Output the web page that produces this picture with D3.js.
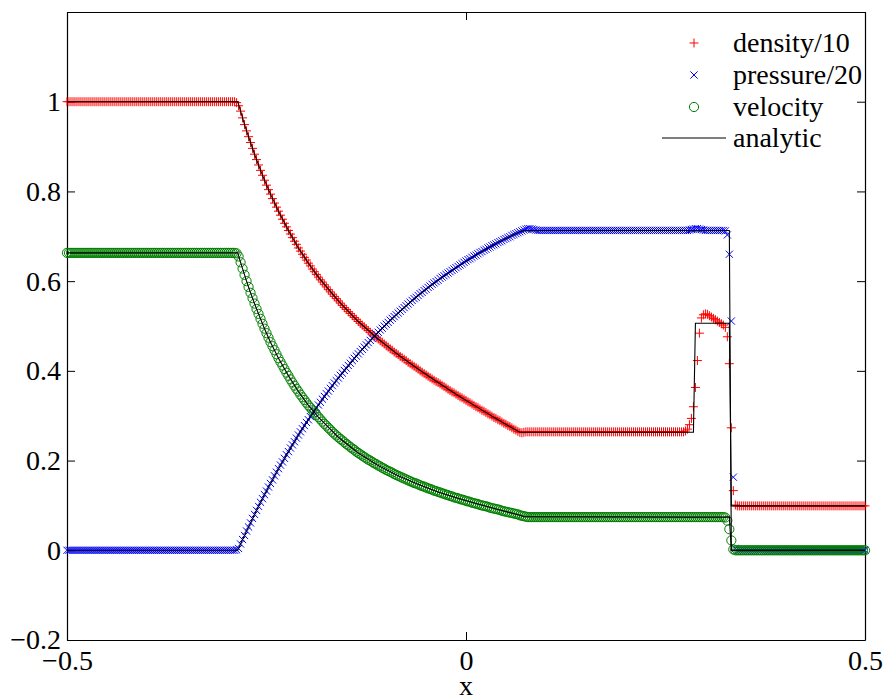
<!DOCTYPE html>
<html>
<head>
<meta charset="utf-8">
<script src="https://cdn.jsdelivr.net/npm/d3@7"></script>
<style>
  html, body { margin: 0; padding: 0; background: #fff; }
  svg { display: block; }
</style>
</head>
<body>
<svg id="chart" width="885" height="700"></svg>
<script>
// Axis limits and tick values
const xDomain = [-0.5, 0.5];
const yDomain = [-0.2, 1.2];
const xTicks = [-0.5, 0, 0.5];
const yTicks = [-0.2, 0, 0.2, 0.4, 0.6, 0.8, 1];
const xLabel = "x";
const seriesNames = ["density/10", "pressure/20", "velocity", "analytic"];

// Cell grid: 401 nodes across [-0.5, 0.5]
const nCells = 400;

// Numerical solution, one value per grid node (10 per row, row r starts at node 10r)
const density = [
  1,1,1,1,1,1,1,1,1,1,
  1,1,1,1,1,1,1,1,1,1,
  1,1,1,1,1,1,1,1,1,1,
  1,1,1,1,1,1,1,1,1,1,
  1,1,1,1,1,1,1,1,1,1,
  1,1,1,1,1,1,1,1,1,1,
  1,1,1,1,1,1,1,1,1,1,
  1,1,1,1,1,1,1,1,1,1,
  1,1,1,1,1,0.998,0.991,0.979,0.964,0.949,
  0.935,0.922,0.909,0.896,0.883,0.871,0.859,0.847,0.836,0.825,
  0.814,0.804,0.794,0.784,0.774,0.765,0.756,0.747,0.738,0.729,
  0.721,0.713,0.705,0.697,0.689,0.682,0.674,0.667,0.660,0.653,
  0.647,0.640,0.634,0.627,0.621,0.615,0.609,0.603,0.598,0.592,
  0.587,0.581,0.576,0.571,0.566,0.561,0.556,0.551,0.546,0.541,
  0.537,0.532,0.528,0.523,0.519,0.515,0.510,0.506,0.502,0.498,
  0.494,0.490,0.486,0.482,0.478,0.475,0.471,0.467,0.464,0.460,
  0.456,0.453,0.449,0.446,0.442,0.439,0.436,0.432,0.429,0.426,
  0.423,0.419,0.416,0.413,0.410,0.407,0.404,0.400,0.397,0.394,
  0.391,0.388,0.385,0.382,0.379,0.376,0.374,0.371,0.368,0.365,
  0.362,0.359,0.356,0.353,0.351,0.348,0.345,0.342,0.340,0.337,
  0.334,0.331,0.329,0.326,0.323,0.320,0.318,0.315,0.312,0.310,
  0.307,0.304,0.302,0.299,0.296,0.294,0.291,0.289,0.286,0.283,
  0.281,0.278,0.276,0.273,0.270,0.268,0.265,0.263,0.262,0.263,
  0.264,0.264,0.264,0.264,0.264,0.264,0.264,0.264,0.264,0.264,
  0.264,0.264,0.264,0.264,0.264,0.264,0.264,0.264,0.264,0.264,
  0.264,0.264,0.264,0.264,0.264,0.264,0.264,0.264,0.264,0.264,
  0.264,0.264,0.264,0.264,0.264,0.264,0.264,0.264,0.264,0.264,
  0.264,0.264,0.264,0.264,0.264,0.264,0.264,0.264,0.264,0.264,
  0.264,0.264,0.264,0.264,0.264,0.264,0.264,0.264,0.264,0.264,
  0.264,0.264,0.264,0.264,0.264,0.264,0.264,0.264,0.264,0.264,
  0.264,0.264,0.264,0.264,0.264,0.264,0.264,0.264,0.264,0.264,
  0.266,0.270,0.280,0.294,0.320,0.363,0.423,0.484,0.518,0.525,
  0.527,0.526,0.523,0.520,0.517,0.514,0.511,0.508,0.505,0.502,
  0.497,0.476,0.416,0.273,0.133,0.101,0.099,0.099,0.099,0.099,
  0.099,0.099,0.099,0.099,0.099,0.099,0.099,0.099,0.099,0.099,
  0.099,0.099,0.099,0.099,0.099,0.099,0.099,0.099,0.099,0.099,
  0.099,0.099,0.099,0.099,0.099,0.099,0.099,0.099,0.099,0.099,
  0.099,0.099,0.099,0.099,0.099,0.099,0.099,0.099,0.099,0.099,
  0.099,0.099,0.099,0.099,0.099,0.099,0.099,0.099,0.099,0.099,
  0.099,0.099,0.099,0.099,0.099,0.099,0.099,0.099,0.099,0.099,
  0.099
];

const pressure = [
  0,0,0,0,0,0,0,0,0,0,
  0,0,0,0,0,0,0,0,0,0,
  0,0,0,0,0,0,0,0,0,0,
  0,0,0,0,0,0,0,0,0,0,
  0,0,0,0,0,0,0,0,0,0,
  0,0,0,0,0,0,0,0,0,0,
  0,0,0,0,0,0,0,0,0,0,
  0,0,0,0,0,0,0,0,0,0,
  0,0,0,0,0,0.001,0.004,0.014,0.024,0.033,
  0.043,0.052,0.061,0.071,0.080,0.089,0.098,0.107,0.115,0.124,
  0.132,0.141,0.149,0.157,0.166,0.174,0.182,0.190,0.197,0.205,
  0.213,0.220,0.228,0.235,0.242,0.250,0.257,0.264,0.271,0.278,
  0.285,0.291,0.298,0.305,0.311,0.318,0.324,0.330,0.337,0.343,
  0.349,0.355,0.361,0.367,0.373,0.378,0.384,0.390,0.395,0.401,
  0.406,0.412,0.417,0.423,0.428,0.433,0.438,0.443,0.448,0.453,
  0.458,0.463,0.468,0.472,0.477,0.482,0.486,0.491,0.495,0.500,
  0.504,0.508,0.513,0.517,0.521,0.525,0.529,0.533,0.537,0.541,
  0.545,0.549,0.553,0.557,0.561,0.564,0.568,0.572,0.575,0.579,
  0.582,0.586,0.589,0.593,0.596,0.599,0.602,0.606,0.609,0.612,
  0.615,0.618,0.621,0.624,0.627,0.630,0.633,0.636,0.639,0.642,
  0.645,0.648,0.650,0.653,0.656,0.658,0.661,0.664,0.666,0.669,
  0.671,0.674,0.676,0.679,0.681,0.683,0.686,0.688,0.690,0.693,
  0.695,0.697,0.699,0.702,0.704,0.706,0.708,0.710,0.712,0.714,
  0.716,0.717,0.717,0.716,0.715,0.714,0.713,0.713,0.713,0.713,
  0.713,0.713,0.713,0.713,0.713,0.713,0.713,0.713,0.713,0.713,
  0.713,0.713,0.713,0.713,0.713,0.713,0.713,0.713,0.713,0.713,
  0.713,0.713,0.713,0.713,0.713,0.713,0.713,0.713,0.713,0.713,
  0.713,0.713,0.713,0.713,0.713,0.713,0.713,0.713,0.713,0.713,
  0.713,0.713,0.713,0.713,0.713,0.713,0.713,0.713,0.713,0.713,
  0.713,0.713,0.713,0.713,0.713,0.713,0.713,0.713,0.713,0.713,
  0.713,0.713,0.713,0.713,0.713,0.713,0.713,0.713,0.713,0.713,
  0.713,0.713,0.714,0.715,0.716,0.717,0.717,0.716,0.715,0.714,
  0.713,0.713,0.713,0.713,0.713,0.713,0.713,0.713,0.713,0.713,
  0.712,0.703,0.660,0.511,0.163,0.004,0,0,0,0,
  0,0,0,0,0,0,0,0,0,0,
  0,0,0,0,0,0,0,0,0,0,
  0,0,0,0,0,0,0,0,0,0,
  0,0,0,0,0,0,0,0,0,0,
  0,0,0,0,0,0,0,0,0,0,
  0,0,0,0,0,0,0,0,0,0,
  0
];

const velocity = [
  0.663,0.663,0.663,0.663,0.663,0.663,0.663,0.663,0.663,0.663,
  0.663,0.663,0.663,0.663,0.663,0.663,0.663,0.663,0.663,0.663,
  0.663,0.663,0.663,0.663,0.663,0.663,0.663,0.663,0.663,0.663,
  0.663,0.663,0.663,0.663,0.663,0.663,0.663,0.663,0.663,0.663,
  0.663,0.663,0.663,0.663,0.663,0.663,0.663,0.663,0.663,0.663,
  0.663,0.663,0.663,0.663,0.663,0.663,0.663,0.663,0.663,0.663,
  0.663,0.663,0.663,0.663,0.663,0.663,0.663,0.663,0.663,0.663,
  0.663,0.663,0.663,0.663,0.663,0.663,0.663,0.663,0.663,0.663,
  0.663,0.663,0.663,0.663,0.663,0.662,0.655,0.642,0.628,0.614,
  0.600,0.587,0.574,0.562,0.550,0.538,0.527,0.516,0.505,0.494,
  0.484,0.474,0.464,0.455,0.446,0.437,0.428,0.420,0.412,0.404,
  0.396,0.389,0.381,0.374,0.367,0.360,0.354,0.347,0.341,0.335,
  0.329,0.323,0.318,0.312,0.307,0.302,0.297,0.292,0.287,0.282,
  0.278,0.273,0.269,0.264,0.260,0.256,0.252,0.248,0.245,0.241,
  0.237,0.234,0.230,0.227,0.224,0.220,0.217,0.214,0.211,0.208,
  0.205,0.202,0.200,0.197,0.194,0.192,0.189,0.187,0.184,0.182,
  0.179,0.177,0.175,0.173,0.170,0.168,0.166,0.164,0.162,0.160,
  0.158,0.156,0.154,0.152,0.150,0.149,0.147,0.145,0.143,0.142,
  0.140,0.138,0.137,0.135,0.133,0.132,0.130,0.129,0.127,0.126,
  0.124,0.123,0.121,0.120,0.118,0.117,0.116,0.114,0.113,0.112,
  0.110,0.109,0.108,0.106,0.105,0.104,0.103,0.101,0.100,0.099,
  0.098,0.097,0.095,0.094,0.093,0.092,0.091,0.090,0.088,0.087,
  0.086,0.085,0.084,0.083,0.082,0.081,0.080,0.078,0.077,0.076,
  0.075,0.074,0.074,0.074,0.074,0.074,0.074,0.074,0.074,0.074,
  0.074,0.074,0.074,0.074,0.074,0.074,0.074,0.074,0.074,0.074,
  0.074,0.074,0.074,0.074,0.074,0.074,0.074,0.074,0.074,0.074,
  0.074,0.074,0.074,0.074,0.074,0.074,0.074,0.074,0.074,0.074,
  0.074,0.074,0.074,0.074,0.074,0.074,0.074,0.074,0.074,0.074,
  0.074,0.074,0.074,0.074,0.074,0.074,0.074,0.074,0.074,0.074,
  0.074,0.074,0.074,0.074,0.074,0.074,0.074,0.074,0.074,0.074,
  0.074,0.074,0.074,0.074,0.074,0.074,0.074,0.074,0.074,0.074,
  0.074,0.074,0.074,0.074,0.074,0.074,0.074,0.074,0.074,0.074,
  0.074,0.074,0.074,0.074,0.074,0.074,0.074,0.074,0.074,0.074,
  0.073,0.066,0.047,0.022,0.002,0,0,0,0,0,
  0,0,0,0,0,0,0,0,0,0,
  0,0,0,0,0,0,0,0,0,0,
  0,0,0,0,0,0,0,0,0,0,
  0,0,0,0,0,0,0,0,0,0,
  0,0,0,0,0,0,0,0,0,0,
  0,0,0,0,0,0,0,0,0,0,
  0
];

// Analytic (exact Riemann) solution, sampled at its breakpoints
const exactX = [
  -0.5, -0.286, -0.285, -0.2825, -0.28, -0.2775, -0.275, -0.27, -0.265, -0.26,
  -0.2525, -0.245, -0.235, -0.2225, -0.21, -0.1975, -0.185, -0.16, -0.135, -0.11,
  -0.085, -0.06, -0.035, -0.01, 0.015, 0.04, 0.0675, 0.0725,
  0.285, 0.2875, 0.33, 0.3325, 0.5
];
const exactDensity = [
  1, 1, 0.994, 0.979, 0.964, 0.949, 0.935, 0.909, 0.883, 0.859,
  0.825, 0.794, 0.756, 0.713, 0.674, 0.640, 0.609, 0.556, 0.510, 0.471,
  0.436, 0.404, 0.374, 0.345, 0.318, 0.291, 0.263, 0.263,
  0.263, 0.506, 0.506, 0.099, 0.099
];
const exactPressure = [
  0, 0, 0.004, 0.014, 0.024, 0.033, 0.043, 0.061, 0.080, 0.098,
  0.124, 0.149, 0.182, 0.220, 0.257, 0.291, 0.324, 0.384, 0.438, 0.486,
  0.529, 0.568, 0.602, 0.633, 0.661, 0.686, 0.710, 0.713,
  0.713, 0.713, 0.713, 0, 0
];
const exactVelocity = [
  0.663, 0.663, 0.657, 0.642, 0.628, 0.614, 0.600, 0.574, 0.550, 0.527,
  0.494, 0.464, 0.428, 0.389, 0.354, 0.323, 0.297, 0.252, 0.217, 0.189,
  0.166, 0.147, 0.130, 0.116, 0.103, 0.091, 0.078, 0.075,
  0.074, 0.074, 0.074, 0, 0
];

// ---------------------------------------------------------------------------
const W = 885, H = 700;
const plot = { left: 67, right: 865, top: 12, bottom: 640 };
const FONT = 28;
const SERIF = '"Liberation Serif", "Times New Roman", Times, "Nimbus Roman", "DejaVu Serif", serif';
const RED = "#ff0000", BLUE = "#0000ff", GREEN = "#008000";

const svg = d3.select("#chart");
svg.append("rect").attr("width", W).attr("height", H).attr("fill", "#fff");

const x = d3.scaleLinear().domain(xDomain).range([plot.left, plot.right]);
const y = d3.scaleLinear().domain(yDomain).range([plot.bottom, plot.top]);

const xGrid = d3.range(nCells + 1).map(i => xDomain[0] + i * (xDomain[1] - xDomain[0]) / nCells);
const fmt = v => (v < 0 ? "\u2212" : "") + String(Math.abs(+v.toFixed(2)));

function setFont(sel) {
  sel.style("font-family", SERIF).style("font-size", FONT + "px").attr("fill", "#000");
}

// Axes box with inward ticks on all four sides
function styleAxis(g) {
  g.attr("font-family", null).attr("font-size", null);
  g.selectAll("path.domain").attr("stroke", "#000").attr("stroke-width", 1.2);
  g.selectAll(".tick line").attr("stroke", "#000").attr("stroke-width", 1);
  g.selectAll(".tick text").call(setFont);
}
const gAxes = svg.append("g");
gAxes.append("g").attr("transform", `translate(${plot.left},0)`)
  .call(d3.axisLeft(y).tickValues(yTicks).tickSizeInner(-8).tickSizeOuter(0).tickPadding(6).tickFormat(fmt))
  .call(styleAxis);
gAxes.append("g").attr("transform", `translate(${plot.right},0)`)
  .call(d3.axisRight(y).tickValues(yTicks).tickSizeInner(-8).tickSizeOuter(0).tickFormat(""))
  .call(styleAxis);
gAxes.append("g").attr("transform", `translate(0,${plot.bottom})`)
  .call(d3.axisBottom(x).tickValues(xTicks).tickSizeInner(-8).tickSizeOuter(0).tickPadding(10).tickFormat(fmt))
  .call(styleAxis);
gAxes.append("g").attr("transform", `translate(0,${plot.top})`)
  .call(d3.axisTop(x).tickValues(xTicks).tickSizeInner(-8).tickSizeOuter(0).tickFormat(""))
  .call(styleAxis);

svg.append("text")
  .attr("x", x(0)).attr("y", 695)
  .attr("text-anchor", "middle")
  .call(setFont)
  .text(xLabel);

// Marker shapes
const plusPath = (cx, cy, s) => `M${cx - s},${cy}H${cx + s}M${cx},${cy - s}V${cy + s}`;
const crossPath = (cx, cy, s) => `M${cx - s},${cy - s}L${cx + s},${cy + s}M${cx - s},${cy + s}L${cx + s},${cy - s}`;

const ptsRho = xGrid.map((xv, i) => ({ x: xv, v: density[i] }));
const ptsP = xGrid.map((xv, i) => ({ x: xv, v: pressure[i] }));
const ptsU = xGrid.map((xv, i) => ({ x: xv, v: velocity[i] }));

svg.append("g").selectAll("path").data(ptsRho).join("path")
  .attr("d", d => plusPath(x(d.x), y(d.v), 4.5))
  .attr("fill", "none").attr("stroke", RED).attr("stroke-width", 1);

svg.append("g").selectAll("path").data(ptsP).join("path")
  .attr("d", d => crossPath(x(d.x), y(d.v), 3.6))
  .attr("fill", "none").attr("stroke", BLUE).attr("stroke-width", 1);

svg.append("g").selectAll("circle").data(ptsU).join("circle")
  .attr("cx", d => x(d.x)).attr("cy", d => y(d.v)).attr("r", 4.6)
  .attr("fill", "none").attr("stroke", GREEN).attr("stroke-width", 1);

// Analytic curves
const line = d3.line().x(d => x(d[0])).y(d => y(d[1]));
[exactDensity, exactPressure, exactVelocity].forEach(vals => {
  svg.append("path")
    .datum(exactX.map((xv, i) => [xv, vals[i]]))
    .attr("d", line)
    .attr("fill", "none").attr("stroke", "#000").attr("stroke-width", 1.1);
});

// Legend
const legend = svg.append("g");
const legRows = [43, 75, 107, 138];
const legMarkX = 694, legTextX = 733;
legend.append("path").attr("d", plusPath(legMarkX, legRows[0], 4.5))
  .attr("stroke", RED).attr("fill", "none");
legend.append("path").attr("d", crossPath(legMarkX, legRows[1], 3.6))
  .attr("stroke", BLUE).attr("fill", "none");
legend.append("circle").attr("cx", legMarkX).attr("cy", legRows[2]).attr("r", 4.6)
  .attr("stroke", GREEN).attr("fill", "none");
legend.append("line").attr("x1", 662).attr("x2", 726).attr("y1", legRows[3]).attr("y2", legRows[3])
  .attr("stroke", "#000").attr("stroke-width", 1.1);
seriesNames.forEach((name, i) => {
  legend.append("text")
    .attr("x", legTextX).attr("y", legRows[i] + 9)
    .call(setFont)
    .text(name);
});
</script>
</body>
</html>
